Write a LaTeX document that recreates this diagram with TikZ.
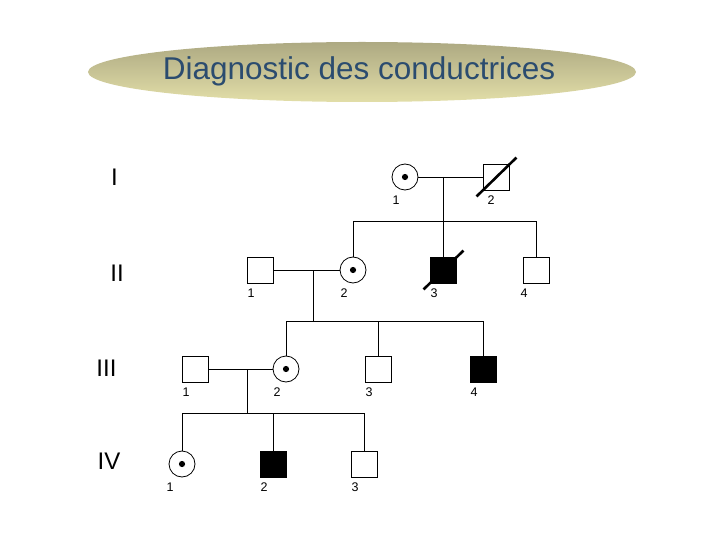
\documentclass[tikz,border=0pt]{standalone}
\usepackage{fontspec}
\setmainfont{Liberation Sans}
\usepackage{tikz}
\definecolor{titletext}{HTML}{2B4C6F}
\definecolor{olivetop}{HTML}{ADA982}
\definecolor{creammid}{HTML}{F5F3DA}
\definecolor{yellowbot}{HTML}{E2DEA8}

\begin{document}
\begin{tikzpicture}[x=1pt, y=-1pt,
  male/.style={draw, rectangle, minimum size=26pt, inner sep=0pt, line width=0.8pt},
  female/.style={draw, circle, minimum size=26pt, inner sep=0pt, line width=0.8pt},
  carrier/.style={female, path picture={\fill (path picture bounding box.center) circle (3.1pt);}},
  affected/.style={male, fill=black},
  dead/.style={line width=2.6pt},
  link/.style={line width=0.8pt},
  gen/.style={font=\fontsize{24}{28}\selectfont, inner sep=0pt},
  num/.style={font=\fontsize{12.5}{14}\selectfont, inner sep=0pt, xshift=-9pt, yshift=-5.5pt}
]
  \useasboundingbox (0,0) rectangle (720,540);

  % title
  \shade[top color=olivetop, middle color=creammid, bottom color=yellowbot] (362,72) ellipse [x radius=274pt, y radius=30pt];
  \node[font=\fontsize{31.5}{36}\selectfont, text=titletext, inner sep=0pt] (title) at (359,71) {Diagnostic des conductrices};

  % generations
  \node[gen] (gI) at (114.5,177.5) {I};
  \node[gen] (gII) at (117,273.5) {II};
  \node[gen] (gIII) at (106.5,368) {III};
  \node[gen] (gIV) at (109,461) {IV};

  % generation I
  \node[carrier, label={[num]below:1}] (i1) at (405,177) {};
  \node[male, label={[num, xshift=4pt]below:2}] (i2) at (496,177) {};
  \draw[dead] ([shift={(-6pt,-6pt)}]i2.south west) -- ([shift={(7pt,6pt)}]i2.north east);

  % generation II
  \node[male, label={[num]below:1}] (ii1) at (260,270) {};
  \node[carrier, label={[num]below:2}] (ii2) at (353,270) {};
  \node[affected, label={[num]below:3}] (ii3) at (443,270) {};
  \node[male, label={[num, xshift=-3pt]below:4}] (ii4) at (536,270) {};
  \draw[dead] ([shift={(-6pt,-6pt)}]ii3.south west) -- ([shift={(7pt,6pt)}]ii3.north east);

  % generation III
  \node[male, label={[num]below:1}] (iii1) at (195,369) {};
  \node[carrier, label={[num]below:2}] (iii2) at (286,369) {};
  \node[male, label={[num]below:3}] (iii3) at (378,369) {};
  \node[affected, label={[num]below:4}] (iii4) at (483,369) {};

  % generation IV
  \node[carrier, label={[num, xshift=-3pt]below:1}] (iv1) at (182,464) {};
  \node[affected, label={[num]below:2}] (iv2) at (273,464) {};
  \node[male, label={[num]below:3}] (iv3) at (364,464) {};

  % couples and sibships
  \coordinate (m1) at (443,177);
  \coordinate (s1) at (443,221);
  \draw[link] (i1) -- (i2);
  \draw[link] (m1) -- (s1);
  \draw[link] (ii2.north |- s1) -- (ii4.north |- s1);
  \foreach \c in {ii2,ii3,ii4} \draw[link] (\c.north) -- (\c.north |- s1);

  \coordinate (m2) at (313,270);
  \coordinate (s2) at (313,321);
  \draw[link] (ii1) -- (ii2);
  \draw[link] (m2) -- (s2);
  \draw[link] (iii2.north |- s2) -- (iii4.north |- s2);
  \foreach \c in {iii2,iii3,iii4} \draw[link] (\c.north) -- (\c.north |- s2);

  \coordinate (m3) at (247,369);
  \coordinate (s3) at (247,413);
  \draw[link] (iii1) -- (iii2);
  \draw[link] (m3) -- (s3);
  \draw[link] (iv1.north |- s3) -- (iv3.north |- s3);
  \foreach \c in {iv1,iv2,iv3} \draw[link] (\c.north) -- (\c.north |- s3);
\end{tikzpicture}
\end{document}
